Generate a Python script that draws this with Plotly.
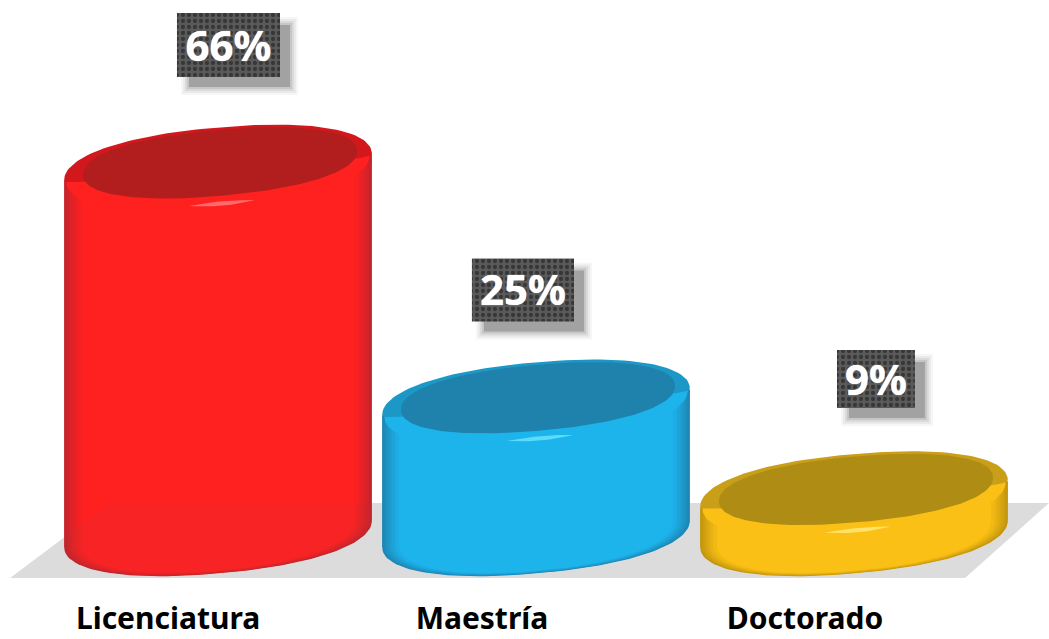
import numpy as np
import plotly.graph_objects as go

# --- data ---
categories = ["Licenciatura", "Maestría", "Doctorado"]
values = [66, 25, 9]
bright = ["#FF2020", "#1DB4EC", "#FBC015"]
edge = ["#C4242C", "#1E86B4", "#C2960E"]
rim = ["#C3161C", "#1C8FBB", "#B8921A"]
dark = ["#B21E1E", "#1E82AC", "#AF8C14"]
gloss = ["#FF6A6A", "#5ADCFA", "#FFE268"]
label_x = [0.033, 0.959, 2.069]
label_y = [87.43, 44.68, 29.14]
label_w = [0.324, 0.321, 0.245]
label_h = [11.17, 11.0, 10.1]
tick_pos = [-0.157, 0.830, 1.846]

# --- scale constants (1 category = 318 px, 1 % = 5.73 px) ---
PX_X, PX_Y = 318.0, 5.73
A, B, S = 0.484, 7.05, 2.3
BASE = 2.27
ROUND = 0.9
X_RANGE = [-0.6855, 2.6132]
Y_RANGE = [-5.585, 95.29]
floor_x = [-0.654, 2.349, 2.6132, -0.340]
floor_y = [-5.585, -5.585, 7.5, 7.5]

T_FRONT = np.linspace(np.pi, 2 * np.pi, 70)
T_BACK = np.linspace(np.pi, 0, 70)


def arc(cx, cy, a, b, s, t):
    c = np.sign(np.cos(t)) * np.abs(np.cos(t)) ** ROUND
    w = np.sign(np.sin(t)) * np.abs(np.sin(t)) ** ROUND
    return cx + a * c, cy + s * (a / A) * c + b * w


def poly(fig, x, y, color):
    fig.add_trace(go.Scatter(x=list(x), y=list(y), mode="lines", fill="toself",
                             fillcolor=color, line=dict(width=0, color=color),
                             hoverinfo="skip", showlegend=False))


def mix(c1, c2, f):
    a = [int(c1[i:i + 2], 16) for i in (1, 3, 5)]
    b = [int(c2[i:i + 2], 16) for i in (1, 3, 5)]
    return "rgb(%d,%d,%d)" % tuple(round(p + (q - p) * f) for p, q in zip(a, b))


fig = go.Figure()

# label boxes: soft shadow layers then a dotted plate
for grow, alpha in [(7, 0.05), (5, 0.07), (3, 0.10), (1, 0.14), (-1, 0.30)]:
    fig.add_trace(go.Bar(
        x=[x + 11 / PX_X for x in label_x],
        base=[y - 11 / PX_Y - h / 2 - grow / PX_Y for y, h in zip(label_y, label_h)],
        y=[h + 2 * grow / PX_Y for h in label_h],
        width=[w + 2 * grow / PX_X for w in label_w],
        marker=dict(color=f"rgba(80,80,80,{alpha})", line=dict(width=0)),
        hoverinfo="skip", showlegend=False))
fig.add_trace(go.Bar(
    x=label_x,
    base=[y - h / 2 for y, h in zip(label_y, label_h)],
    y=label_h,
    width=label_w,
    marker=dict(color="#5A5A5A", line=dict(width=0),
                pattern=dict(shape=".", size=6, solidity=0.4,
                             fgcolor="#141414", bgcolor="#5A5A5A")),
    hoverinfo="skip", showlegend=False))

# floor
poly(fig, floor_x, floor_y, "#DCDCDC")

# cylinders
for i, v in enumerate(values):
    cx = float(i)
    # body, nested from shaded edge to bright core
    steps = [0, 0.015, 0.03, 0.048, 0.066, 0.085, 0.11]
    for k, d in enumerate(steps):
        f = k / (len(steps) - 1)
        a = A * (1 - d)
        bx, by = arc(cx, BASE, a, B * (1 - d * 0.6), S, T_FRONT)
        xs = np.concatenate([bx, [cx + a, cx - a]])
        ys = np.concatenate([by, [v + S * a / A, v - S * a / A]])
        poly(fig, xs, ys, mix(edge[i], bright[i], f))
    # front of the cap, bright up to the outer edge
    fx, fy = arc(cx, v, A * 0.985, B, S, T_FRONT)
    poly(fig, fx, fy, bright[i])
    # back of the cap: rim reaching the outer edge
    ux, uy = arc(cx, v, A, B, S, T_BACK)
    lx, ly = arc(cx, v, A, 5 / PX_Y, S, T_FRONT[::-1])
    poly(fig, np.concatenate([ux, lx]), np.concatenate([uy, ly]), mix(rim[i], bright[i], 0.25))
    # dark inner cap
    t = np.linspace(0, 2 * np.pi, 140)
    dx, dy = arc(cx + 2 / PX_X, v + 5 / PX_Y, A * 0.89, 33 / PX_Y, S, t)
    poly(fig, dx, dy, dark[i])
    # gloss sliver (tapered)
    g = np.linspace(np.pi * 1.45, np.pi * 1.565, 30)
    swell = np.sin(np.linspace(0, np.pi, 30)) * 2.2 / PX_Y
    gx, gy = arc(cx, v, A, 36 / PX_Y, S, g)
    poly(fig, np.concatenate([gx, gx[::-1]]),
         np.concatenate([gy + swell, (gy - swell)[::-1]]), gloss[i])
    # the floor shows faintly through the red cylinder
    if i == 0:
        ax, ay = arc(cx, BASE, A, B, S, T_FRONT[::-1])
        edge_y = np.interp(cx - A, floor_x[0::3], floor_y[0::3])
        poly(fig,
             np.concatenate([ax, [cx - A, floor_x[3], cx + A]]),
             np.concatenate([ay, [edge_y, floor_y[3], floor_y[3]]]),
             "rgba(120,90,110,0.06)")

# percentage labels
fig.add_trace(go.Scatter(
    x=label_x, y=[y - 5 / PX_Y for y in label_y], mode="text",
    text=[f"{v}%" for v in values], textposition="middle center",
    textfont=dict(family="Noto Sans", size=42, color="white", weight="bold",
                  shadow="0 0 1px white"),
    hoverinfo="skip", showlegend=False))

fig.update_layout(
    width=1049, height=639,
    margin=dict(l=0, r=0, t=0, b=61, autoexpand=False),
    paper_bgcolor="white", plot_bgcolor="white",
    barmode="overlay", showlegend=False,
    xaxis=dict(range=X_RANGE, showgrid=False, zeroline=False, showline=False,
               automargin=False,
               tickmode="array", tickvals=tick_pos,
               ticktext=categories, ticks="", ticklabelstandoff=20,
               tickfont=dict(family="Noto Sans", size=30, color="black", weight="bold")),
    yaxis=dict(range=Y_RANGE, visible=False),
)

fig.write_html("out.html", config=dict(displayModeBar=False),
               post_script="document.body.style.margin='0';document.body.style.overflow='hidden';")
